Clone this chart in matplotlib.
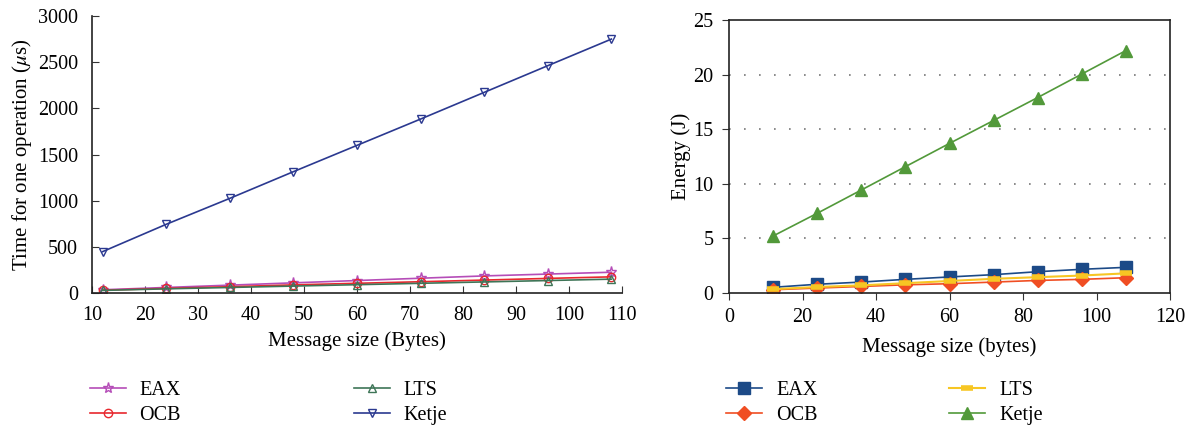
import matplotlib
matplotlib.use("Agg")
import matplotlib.pyplot as plt

plt.rcParams['font.family'] = ['Liberation Serif', 'DejaVu Serif']
plt.rcParams['mathtext.fontset'] = 'stix'

# message sizes (bytes)
sizes = [12, 24, 36, 48, 60, 72, 84, 96, 108]

# left: time for one operation (us)
time_eax = [35, 60, 85, 110, 135, 160, 185, 205, 225]
time_ocb = [30, 50, 68, 88, 105, 122, 140, 158, 175]
time_lts = [28, 45, 60, 75, 90, 105, 120, 135, 150]
time_ketje = [448, 744, 1025, 1314, 1599, 1884, 2173, 2462, 2750]

# right: energy (J)
en_eax = [0.52, 0.8, 1.0, 1.25, 1.47, 1.68, 1.95, 2.17, 2.35]
en_ocb = [0.3, 0.45, 0.6, 0.75, 0.85, 1.0, 1.15, 1.25, 1.4]
en_lts = [0.35, 0.55, 0.7, 0.9, 1.1, 1.3, 1.45, 1.6, 1.8]
en_ketje = [5.22, 7.3, 9.43, 11.57, 13.7, 15.8, 17.9, 20.05, 22.2]

labels = ['EAX', 'OCB', 'LTS', 'Ketje']

fig = plt.figure(figsize=(11.9, 4.28), dpi=100)
ax1 = fig.add_axes([92/1190, 1-293/428, (622-92)/1190, (293-16)/428])
ax2 = fig.add_axes([729/1190, 1-293/428, (1170-729)/1190, (293-20)/428])

# ---- left plot
l1 = ax1.plot(sizes, time_eax, color='#b54db8', marker='*', ms=8, mfc='none', lw=1.2)[0]
l2 = ax1.plot(sizes, time_ocb, color='#e8282e', marker='o', ms=6, mfc='none', lw=1.2)[0]
l3 = ax1.plot(sizes, time_lts, color='#3e7557', marker='^', ms=6, mfc='none', lw=1.2)[0]
l4 = ax1.plot(sizes, time_ketje, color='#2b3990', marker='v', ms=6, mfc='none', lw=1.2)[0]

ax1.set_xlim(10, 110)
ax1.set_ylim(0, 3000)
ax1.set_xticks(range(10, 111, 10))
ax1.set_yticks(range(0, 3001, 500))
ax1.spines['top'].set_visible(False)
ax1.spines['right'].set_visible(False)
ax1.tick_params(direction='in', labelsize=14.5, length=5, color='#333333')
ax1.tick_params(axis='x', pad=9)
ax1.tick_params(axis='y', pad=10)
ax1.set_xlabel('Message size (Bytes)', fontsize=15, labelpad=5)
ax1.set_ylabel(r'Time for one operation ($\mu$s)', fontsize=15, labelpad=3)

# ---- right plot
r1 = ax2.plot(sizes, en_eax, color='#1c4a87', marker='s', ms=8, lw=1.2)[0]
r2 = ax2.plot(sizes, en_ocb, color='#f04e23', marker='D', ms=7, lw=1.2)[0]
r3 = ax2.plot(sizes, en_lts, color='#f7c623', marker='_', ms=9, mew=4, lw=1.5)[0]
r4 = ax2.plot(sizes, en_ketje, color='#52993a', marker='^', ms=9, lw=1.2)[0]

ax2.set_xlim(0, 120)
ax2.set_ylim(0, 25)
ax2.set_xticks(range(0, 121, 20))
ax2.set_yticks(range(0, 26, 5))
for y in [5, 10, 15, 20]:
    ax2.axhline(y, color='#777777', lw=1.2, ls=(0, (1, 8)), zorder=0)
ax2.tick_params(direction='out', labelsize=14.5, length=5, color='#333333')
ax2.tick_params(axis='x', pad=6)
ax2.tick_params(axis='y', pad=6)
ax2.set_xlabel('Message size (bytes)', fontsize=15, labelpad=7)
ax2.set_ylabel('Energy (J)', fontsize=15, labelpad=2)

for ax in (ax1, ax2):
    for s in ax.spines.values():
        s.set_color('#222222')
        s.set_linewidth(1.2)

fig.legend([l1, l2, l3, l4], labels, ncol=2, frameon=False, fontsize=14.5,
           loc='upper left', bbox_to_anchor=(90/1190, 1-381/428),
           handlelength=1.8, handletextpad=0.65, labelspacing=0.3,
           columnspacing=8.6, borderpad=0, borderaxespad=0)
fig.legend([r1, r2, r3, r4], labels, ncol=2, frameon=False, fontsize=14.5,
           loc='upper left', bbox_to_anchor=(726/1190, 1-381/428),
           handlelength=1.8, handletextpad=0.7, labelspacing=0.3,
           columnspacing=6.5, borderpad=0, borderaxespad=0)

fig.savefig('out.png', dpi=100)
